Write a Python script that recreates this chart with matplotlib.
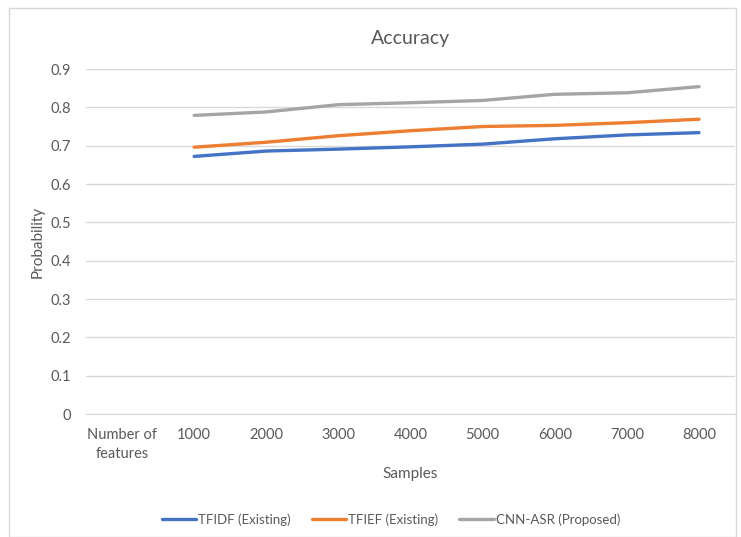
import matplotlib.pyplot as plt
from matplotlib.patches import Rectangle

plt.rcParams['font.family'] = ['Lato', 'DejaVu Sans']

categories = ["Number of\nfeatures", "1000", "2000", "3000", "4000",
              "5000", "6000", "7000", "8000"]
tfidf = [0.672, 0.686, 0.691, 0.697, 0.704, 0.718, 0.728, 0.734]
tfief = [0.696, 0.709, 0.726, 0.739, 0.750, 0.753, 0.760, 0.769]
cnn_asr = [0.779, 0.788, 0.807, 0.812, 0.818, 0.834, 0.838, 0.854]
y_ticks = [0, 0.1, 0.2, 0.3, 0.4, 0.5, 0.6, 0.7, 0.8, 0.9]
y_labels = ["0", "0.1", "0.2", "0.3", "0.4", "0.5", "0.6", "0.7", "0.8", "0.9"]

fig = plt.figure(figsize=(7.41, 5.37), dpi=100)
ax = fig.add_axes([0.116, 0.229, 0.876, 0.6425])

# light frame around the whole chart, like the Excel chart area
fig.patches.append(Rectangle((9 / 741, 0), 1 - 14 / 741, 1 - 8 / 537,
                             transform=fig.transFigure, fill=False,
                             edgecolor="#D9D9D9", linewidth=1))

x = list(range(1, len(categories)))
ax.plot(x, tfidf, color="#4472C4", lw=2.4, label="TFIDF (Existing)",
        solid_capstyle="round")
ax.plot(x, tfief, color="#ED7D31", lw=2.4, label="TFIEF (Existing)",
        solid_capstyle="round")
ax.plot(x, cnn_asr, color="#A5A5A5", lw=2.4, label="CNN-ASR (Proposed)",
        solid_capstyle="round")

ax.set_xlim(-0.5, len(categories) - 0.5)
ax.set_ylim(0, 0.9)
ax.set_xticks(range(len(categories)))
ax.set_xticklabels(categories, linespacing=1.5)
ax.set_yticks(y_ticks)
ax.set_yticklabels(y_labels)
ax.grid(axis="y", color="#D9D9D9", lw=1)
ax.set_axisbelow(True)
for s in ["top", "right", "left"]:
    ax.spines[s].set_visible(False)
ax.spines["bottom"].set_color("#D9D9D9")
ax.tick_params(length=0, labelsize=10.5, colors="#595959", pad=10)
ax.tick_params(axis="y", pad=11)

ax.set_title("Accuracy", fontsize=14, color="#595959", pad=18)
ax.set_xlabel("Samples", fontsize=11, color="#595959", labelpad=4)
ax.set_ylabel("Probability", fontsize=11, color="#595959", labelpad=4)

ax.legend(loc="center", bbox_to_anchor=(0.47, -0.305), ncol=3, frameon=False,
          fontsize=9.5, labelcolor="#595959", handlelength=2.6,
          handletextpad=0.15, columnspacing=1.6)

fig.savefig("out.png", dpi=100)
